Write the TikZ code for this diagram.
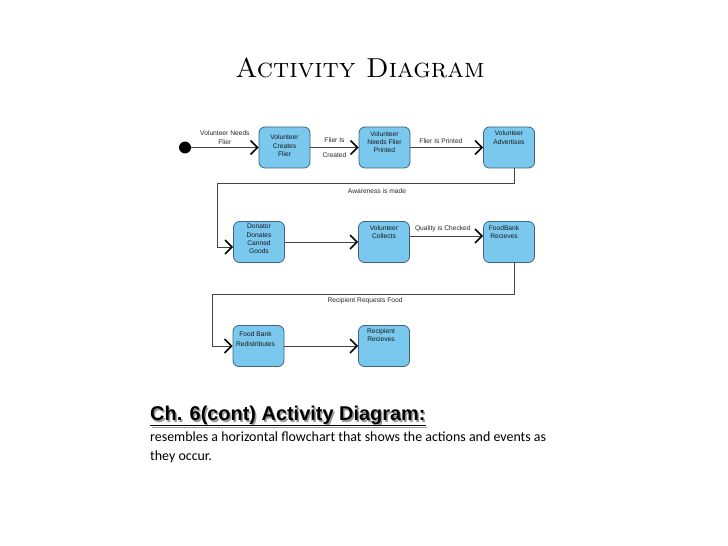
\documentclass[tikz,border=0pt]{standalone}
\usepackage{xcolor}
\usepackage{fontspec}
\setsansfont{Liberation Sans}
\newfontfamily\bodyfont{Carlito}
\usepackage{tikz}
\usetikzlibrary{arrows.meta,positioning,calc}
\definecolor{actfill}{RGB}{122,200,238}
\definecolor{actborder}{RGB}{62,100,128}
\definecolor{flowgray}{HTML}{454545}
\tikzstyle{act} = [draw=actborder, fill=actfill, rounded corners=6bp, line width=0.8bp, minimum width=51bp, minimum height=41bp, inner sep=0pt]
\tikzstyle{acttext} = [anchor=north, align=center, inner sep=0pt, text=black!90, font=\sffamily\fontsize{6.7}{8.4}\selectfont]
\tikzstyle{lbl} = [inner sep=0pt, align=center, text=black!85, font=\sffamily\fontsize{6.7}{8.2}\selectfont]
\tikzstyle{flow} = [-{Straight Barb[length=7bp,width=14bp,line width=1.5bp,color=black]}, line width=0.8bp, flowgray]

\begin{document}
\begin{tikzpicture}[x=1bp,y=-1bp]
\useasboundingbox (0,0) rectangle (728,546);
\node at (360,68) (title) {\fontsize{27.5}{27.5}\selectfont\textsc{Activity Diagram}};
% top row
\node[circle, fill=black, minimum size=12bp, inner sep=0pt] at (185,147.5) (start) {};
\node[act] at (284.5,147.5) (b1) {};
\node[act] at (384.5,147.5) (b2) {};
\node[act] at (509,147.5) (b3) {};
\node[acttext] at ($(b1.north)+(0,8)$) (t1) {Volunteer\\Creates\\Flier};
\node[acttext] at ($(b2.north)+(0,4.5)$) (t2) {Volunteer\\Needs Flier\\Printed};
\node[acttext] at ($(b3.north)+(0,4)$) (t3) {Volunteer\\Advertises};
% middle row
\node[act] at (259,242) (b4) {};
\node[act] at (384,242) (b5) {};
\node[act] at (509,242) (b6) {};
\node[acttext] at ($(b4.north)+(0,3)$) (t4) {Donator\\Donates\\Canned\\Goods};
\node[acttext] at ($(b5.north)+(0,4)$) (t5) {Volunteer\\Collects};
\node[acttext] at ($(b6.north)+(-5,4)$) (t6) {FoodBank\\Recieves};
% bottom row
\node[act] at (258.5,346) (b7) {};
\node[act] at (384,346) (b8) {};
\node[acttext, font=\sffamily\fontsize{6.7}{10}\selectfont] at ($(b7.north)+(-3,6)$) (t7) {Food Bank\\Redistributes};
\node[acttext] at ($(b8.north)+(-3,3)$) (t8) {Recipient\\Recieves};
\coordinate (bend1) at (217,183);
\coordinate (bend2) at (212,294);
\draw[flow] (start) -- (b1.west) node[lbl, midway, above=3bp]{Volunteer Needs\\Flier};
\draw[flow] (b1) -- (b2.west) node[lbl, midway, above=5bp]{Flier Is} node[lbl, midway, below=5bp]{Created};
\draw[flow] (b2) -- (b3.west) node[lbl, pos=0.42, above=4bp]{Flier Is Printed};
\draw[flow] ([xshift=5bp]b3.south) |- (bend1) |- ([yshift=-5bp]b4.west);
\node[lbl] at (377,191) (aware) {Awareness is made};
\draw[flow] (b4) -- (b5.west);
\draw[flow] ([yshift=6bp]b5.east) -- ([yshift=6bp]b6.west) node[lbl, pos=0.45, above=4bp]{Quality is Checked};
\draw[flow] ([xshift=5bp]b6.south) |- (bend2) |- (b7.west);
\node[lbl] at (365,301) (request) {Recipient Requests Food};
\draw[flow] (b7) -- (b8.west);
% caption
\node[anchor=base west, text=black!40, inner sep=0pt] at (151.5,422) (headshadow) {\sffamily\bfseries\fontsize{20}{20}\selectfont\underline{Ch. 6(cont) Activity Diagram:}};
\node[anchor=base west, inner sep=0pt] at (150,420) (head) {\sffamily\bfseries\fontsize{20}{20}\selectfont\underline{Ch. 6(cont) Activity Diagram:}};
\node[anchor=north west, align=left, inner sep=0pt, font=\bodyfont\fontsize{14}{19}\selectfont] at (150,432) (body) {resembles a horizontal flowchart that shows the actions and events as\\they occur.};
\end{tikzpicture}
\end{document}
